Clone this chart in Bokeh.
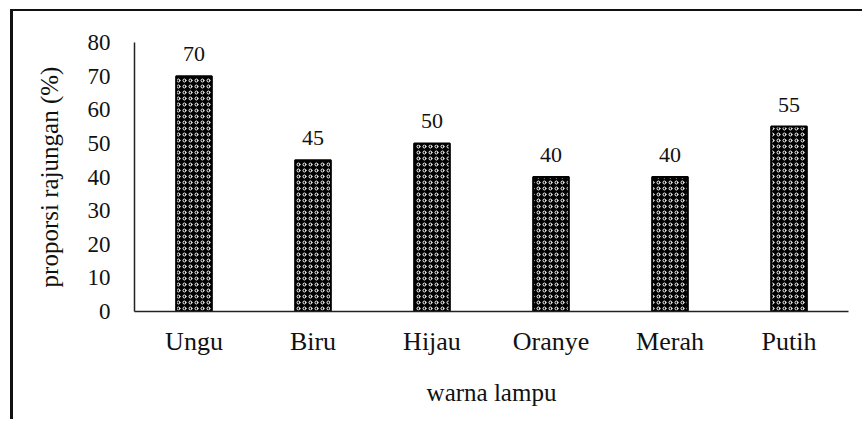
from bokeh.plotting import figure
from bokeh.models import ColumnDataSource, Range1d, LabelSet
from bokeh.embed import file_html
from bokeh.resources import INLINE

categories = ["Ungu", "Biru", "Hijau", "Oranye", "Merah", "Putih"]
values = [70, 45, 50, 40, 40, 55]
labels = [str(v) for v in values]
y_ticks = [0, 10, 20, 30, 40, 50, 60, 70, 80]

src = ColumnDataSource(dict(cat=categories, val=values, lab=labels))

FONT = "Liberation Serif"

p = figure(x_range=categories, y_range=Range1d(0, 80), width=852, height=410,
           output_backend="svg", toolbar_location=None,
           min_border_left=121, min_border_right=17, min_border_top=31,
           min_border_bottom=110)
p.styles = {"border-top": "2px solid #111", "border-left": "3px solid #111",
            "margin-left": "10px", "margin-top": "9px"}
p.outline_line_color = None
p.xgrid.grid_line_color = None
p.ygrid.grid_line_color = None
p.background_fill_color = "white"
p.border_fill_color = "white"

p.vbar(x="cat", top="val", width=0.30, source=src, fill_color="black",
       line_color="black", line_width=2, hatch_pattern="ring",
       hatch_color="white", hatch_scale=6, hatch_weight=1)

p.add_layout(LabelSet(x="cat", y="val", text="lab", source=src,
                      text_align="center", text_baseline="alphabetic",
                      y_offset=15, text_font=FONT, text_font_size="22px",
                      text_color="#111"))

p.yaxis.ticker = y_ticks
p.yaxis.axis_label = "proporsi rajungan (%)"
p.xaxis.axis_label = "warna lampu"
for ax in (p.xaxis[0], p.yaxis[0]):
    ax.major_tick_line_color = None
    ax.minor_tick_line_color = None
    ax.major_tick_out = 0
    ax.major_tick_in = 0
    ax.axis_line_color = "#222"
    ax.axis_line_width = 1.5
    ax.major_label_text_font = FONT
    ax.major_label_text_color = "#111"
    ax.axis_label_text_font = FONT
    ax.axis_label_text_font_style = "normal"
    ax.axis_label_text_color = "#111"

p.yaxis.major_label_text_font_size = "23px"
p.yaxis.major_label_standoff = 24
p.yaxis.axis_label_text_font_size = "25px"
p.yaxis.axis_label_standoff = 22

p.xaxis.major_label_text_font_size = "26px"
p.xaxis.major_label_standoff = 15
p.xaxis.axis_label_text_font_size = "25px"
p.xaxis.axis_label_standoff = 20

open("out.html", "w").write(file_html(p, INLINE))
